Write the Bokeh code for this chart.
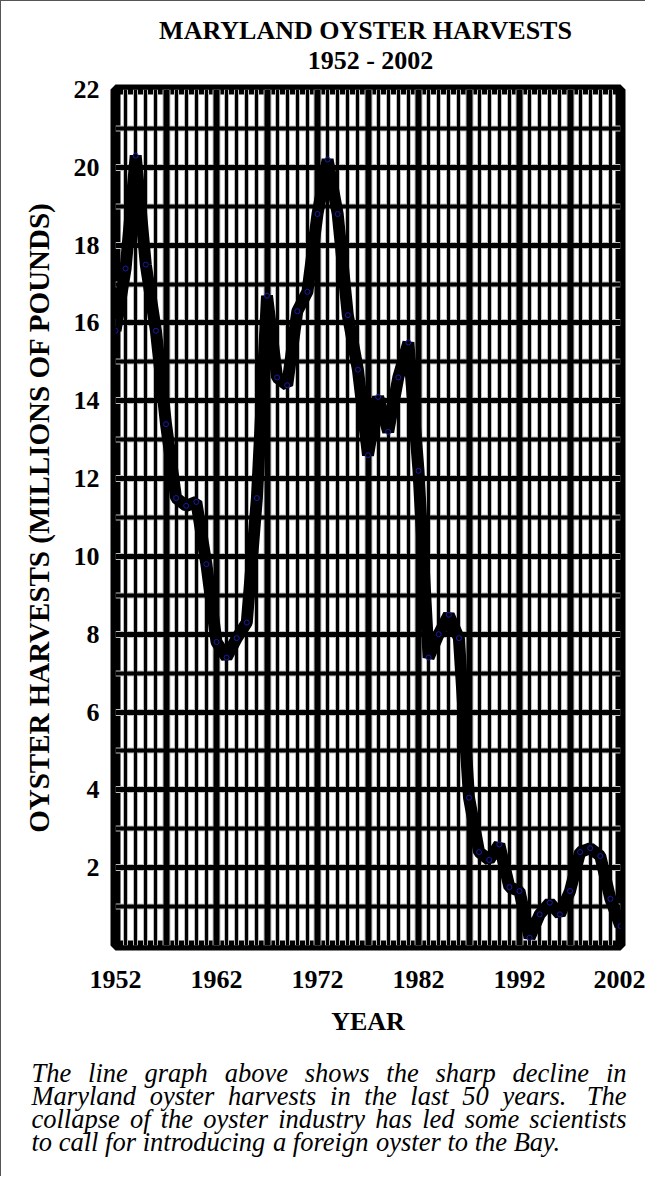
from bokeh.plotting import figure
from bokeh.models import Range1d, FixedTicker, Grid
from bokeh.layouts import column
from bokeh.core.properties import value
from bokeh.embed import file_html
from bokeh.resources import INLINE

# ---------------- data ----------------
years = list(range(1952, 2003))
harvest = [15.8, 17.4, 20.3, 17.5, 15.8, 13.4, 11.5, 11.3, 11.4, 9.8,
           7.8, 7.4, 7.9, 8.3, 11.5, 16.7, 14.6, 14.4, 16.3, 16.8,
           18.8, 20.2, 18.8, 16.2, 14.8, 12.6, 14.1, 13.2, 14.6, 15.5,
           12.2, 7.4, 8.0, 8.5, 7.9, 3.8, 2.4, 2.2, 2.6, 1.5,
           1.4, 0.2, 0.8, 1.1, 0.8, 1.4, 2.4, 2.5, 2.3, 1.2,
           0.5]
x_ticks = [1952, 1962, 1972, 1982, 1992, 2002]
y_ticks = [2, 4, 6, 8, 10, 12, 14, 16, 18, 20, 22]
x_major_grid = list(range(1952, 2003, 5))
x_minor_grid = years
y_major_grid = list(range(0, 23, 2))
y_minor_grid = list(range(1, 22, 2))

title_text = "MARYLAND OYSTER HARVESTS"
subtitle_text = "1952 - 2002"
x_label = "YEAR"
y_label = "OYSTER HARVESTS (MILLIONS OF POUNDS)"
caption_lines = [
    "The line graph above shows the sharp decline in",
    "Maryland oyster harvests in the last 50 years.  The",
    "collapse of the oyster industry has led some scientists",
    "to call for introducing a foreign oyster to the Bay.",
]

# ---------------- layout ----------------
W = 644
H_HEAD, H_CAP = 73, 128
H_MAIN = 1175 - H_HEAD - H_CAP
FONT = "Liberation Serif"


def blank(height):
    f = figure(width=W, height=height, x_range=Range1d(0, W), y_range=Range1d(height, 0),
               output_backend="svg", toolbar_location=None, frame_align=False, title=None,
               min_border=0, min_border_left=0, min_border_right=0,
               min_border_top=0, min_border_bottom=0,
               background_fill_color="white", border_fill_color="white")
    f.axis.visible = False
    f.grid.visible = False
    f.outline_line_color = None
    return f


# header: title + subtitle
head = blank(H_HEAD)
head.text(x=[364, 369], y=[29, 59], text=[title_text, subtitle_text],
          text_align="center", text_baseline="alphabetic",
          text_font=value(FONT), text_font_style="bold", text_font_size="26px",
          text_color="black")

# main chart
TOP = 15
p = figure(width=W, height=H_MAIN, x_range=Range1d(1952, 2002), y_range=Range1d(0, 22),
           output_backend="svg", toolbar_location=None, frame_align=False,
           min_border_left=114, min_border_right=25, min_border_top=TOP,
           min_border_bottom=H_MAIN - TOP - 856,
           background_fill_color="white", border_fill_color="white")
p.xgrid.visible = False
p.ygrid.visible = False

for color, add in (("#bdbdbd", 2), ("black", 0)):
    p.add_layout(Grid(dimension=0,
                      ticker=FixedTicker(ticks=x_major_grid, minor_ticks=x_minor_grid),
                      grid_line_color=color, grid_line_width=6 + add,
                      minor_grid_line_color=color, minor_grid_line_width=3 + add))
    p.add_layout(Grid(dimension=1,
                      ticker=FixedTicker(ticks=y_major_grid, minor_ticks=y_minor_grid),
                      grid_line_color=color, grid_line_width=5 + add,
                      minor_grid_line_color=color, minor_grid_line_width=4 + add))

p.line(years, harvest, line_width=12, line_color="black", line_join="bevel")
p.scatter(years, harvest, marker="circle", size=5, fill_color=None,
          line_color="#1a1aa8", line_width=1)

p.outline_line_color = "black"
p.outline_line_width = 10
p.outline_line_alpha = 1.0

p.xaxis.ticker = FixedTicker(ticks=x_ticks)
p.yaxis.ticker = FixedTicker(ticks=y_ticks)
for ax in (p.xaxis[0], p.yaxis[0]):
    ax.axis_line_color = None
    ax.major_tick_line_color = None
    ax.minor_tick_line_color = None
    ax.major_tick_out = 0
    ax.major_tick_in = 0
    ax.major_label_text_font = FONT
    ax.major_label_text_font_style = "bold"
    ax.major_label_text_font_size = "26px"
    ax.major_label_text_color = "black"
    ax.axis_label_text_font = FONT
    ax.axis_label_text_font_style = "bold"
    ax.axis_label_text_color = "black"
p.xaxis.axis_label = x_label
p.xaxis.axis_label_text_font_size = "26px"
p.xaxis.major_label_standoff = 25
p.xaxis.axis_label_standoff = 16
p.yaxis.axis_label = y_label
p.yaxis.axis_label_text_font_size = "29px"
p.yaxis.major_label_standoff = 16
p.yaxis.axis_label_standoff = 16

# caption: justified italic paragraph
cap = blank(H_CAP)
CF = 26.5
widths = {' ': 250, '.': 250, 'T': 556, 'M': 833, 'B': 611,
          'a': 500, 'b': 500, 'c': 444, 'd': 500, 'e': 444, 'f': 278, 'g': 500,
          'h': 500, 'i': 278, 'j': 278, 'k': 444, 'l': 278, 'm': 722, 'n': 500,
          'o': 500, 'p': 500, 'q': 500, 'r': 389, 's': 389, 't': 278, 'u': 500,
          'v': 444, 'w': 667, 'x': 444, 'y': 444, 'z': 389}


def tw(s):
    return sum(widths.get(ch, 500) for ch in s) * CF / 1000.0


left_px, right_px = 30, 625
baselines = [24, 47, 70, 93]
wx, wy, wt, wa = [], [], [], []
for li, line in enumerate(caption_lines):
    parts = line.split(" ")
    words = [w for w in parts if w]
    gaps, cnt = [], 0
    for w in parts[1:]:
        cnt += 1
        if w:
            gaps.append(cnt)
            cnt = 0
    justify = li < len(caption_lines) - 1
    natural = sum(tw(w) for w in words) + sum(g * tw(" ") for g in gaps)
    extra = (right_px - left_px - natural) / len(gaps) if justify else 0.0
    xpos = left_px
    for wi, w in enumerate(words):
        last = justify and wi == len(words) - 1
        wx.append(right_px if last else xpos)
        wy.append(baselines[li])
        wt.append(w)
        wa.append("right" if last else "left")
        if wi < len(gaps):
            xpos += tw(w) + gaps[wi] * tw(" ") + extra

cap.text(x=wx, y=wy, text=wt, text_align=wa, text_baseline="alphabetic",
         text_font=value(FONT), text_font_style="italic", text_font_size=f"{CF}px",
         text_color="black")

layout = column(head, p, cap, spacing=0,
                styles={"border-left": "1px solid #555", "border-top": "1px solid #555"})

open("out.html", "w").write(file_html(layout, INLINE))
